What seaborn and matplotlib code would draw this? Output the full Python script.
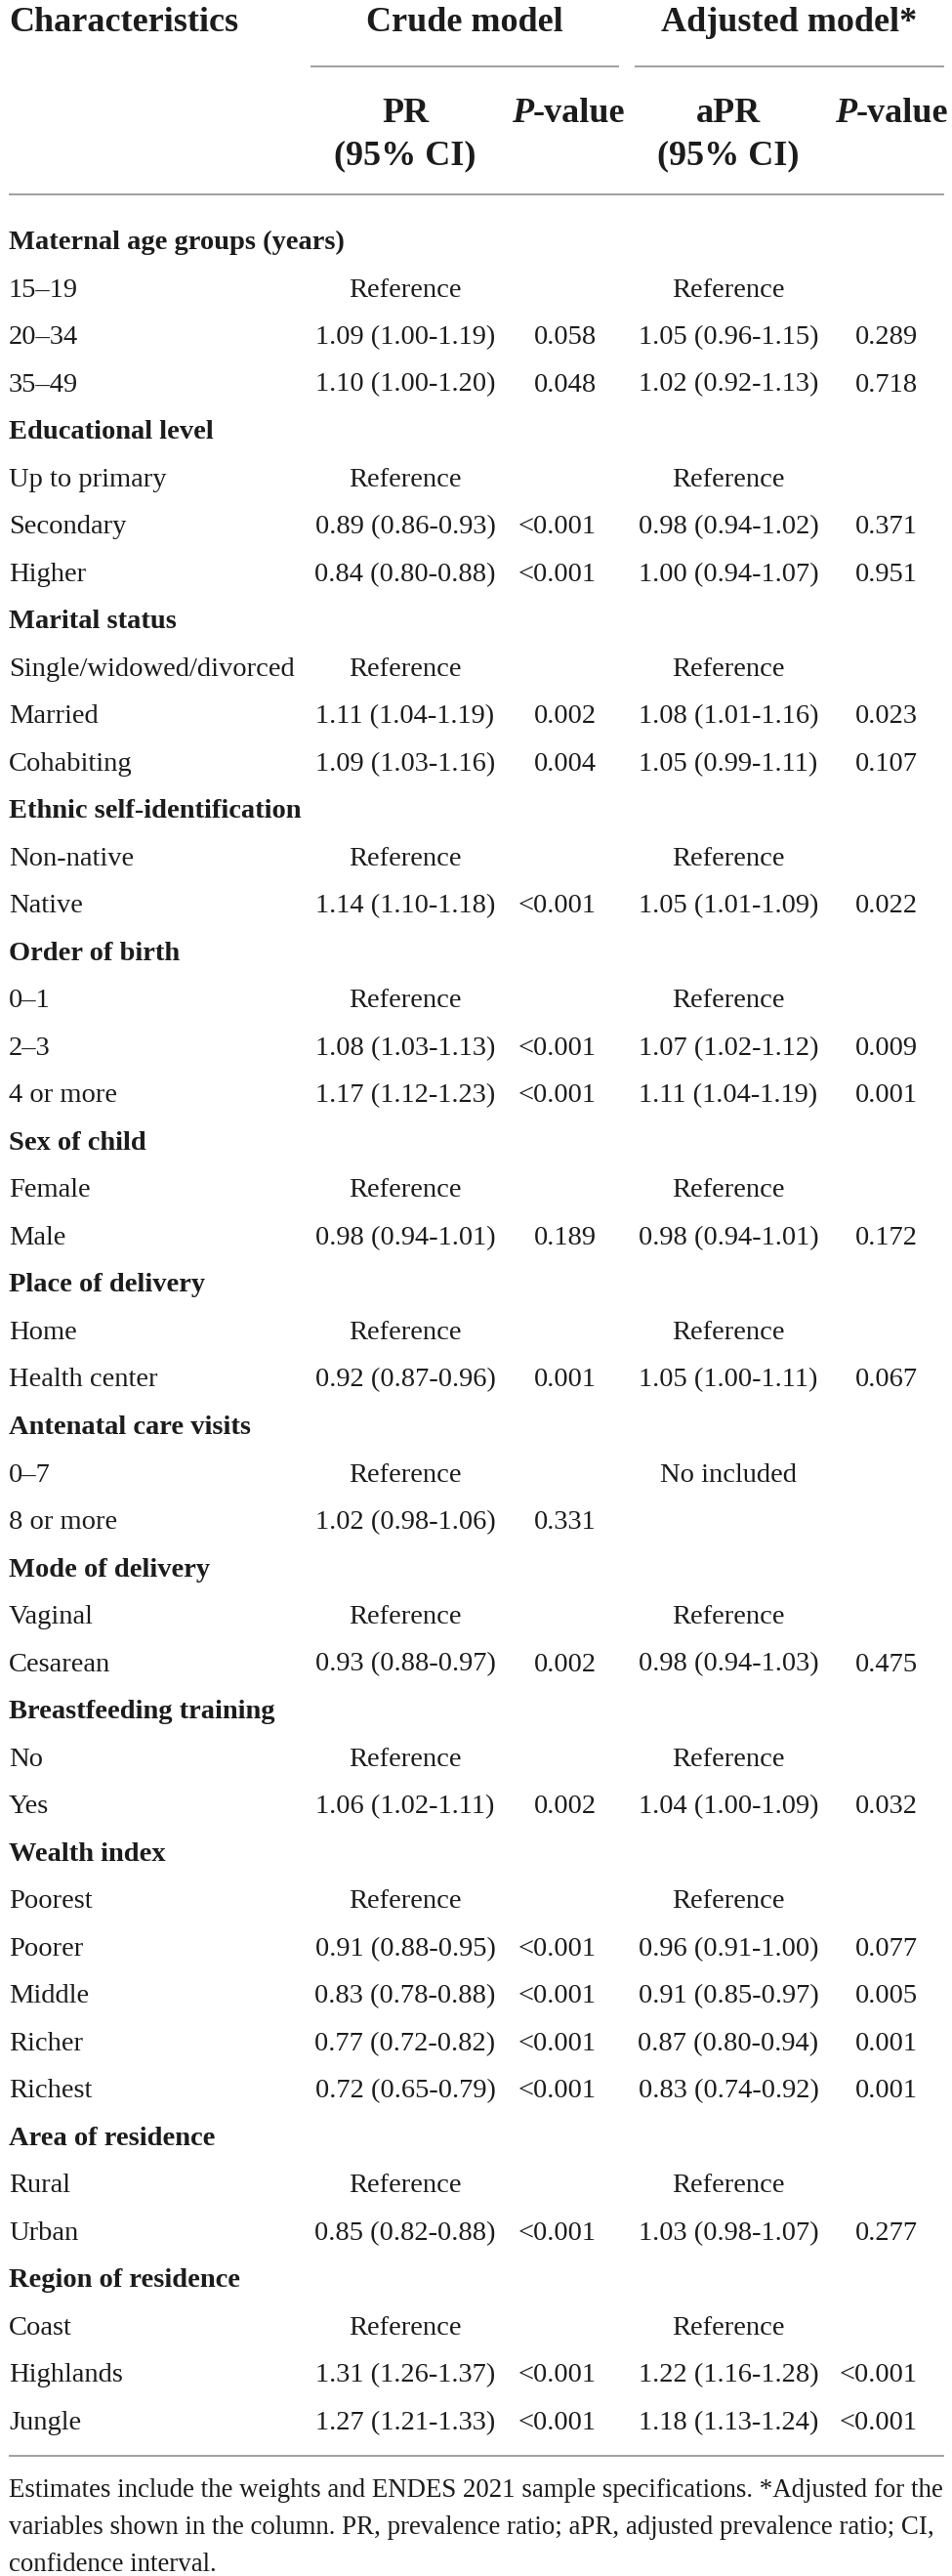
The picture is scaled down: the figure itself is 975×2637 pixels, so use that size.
import pandas as pd
import matplotlib
matplotlib.use("Agg")
import matplotlib.pyplot as plt
import seaborn as sns

# ---------------- data ----------------
sections = [
    "Maternal age groups (years)",
    "Educational level",
    "Marital status",
    "Ethnic self-identification",
    "Order of birth",
    "Sex of child",
    "Place of delivery",
    "Antenatal care visits",
    "Mode of delivery",
    "Breastfeeding training",
    "Wealth index",
    "Area of residence",
    "Region of residence",
]

items = [
    ["15–19", "20–34", "35–49"],
    ["Up to primary", "Secondary", "Higher"],
    ["Single/widowed/divorced", "Married", "Cohabiting"],
    ["Non-native", "Native"],
    ["0–1", "2–3", "4 or more"],
    ["Female", "Male"],
    ["Home", "Health center"],
    ["0–7", "8 or more"],
    ["Vaginal", "Cesarean"],
    ["No", "Yes"],
    ["Poorest", "Poorer", "Middle", "Richer", "Richest"],
    ["Rural", "Urban"],
    ["Coast", "Highlands", "Jungle"],
]

pr_crude = [
    "Reference", "1.09 (1.00-1.19)", "1.10 (1.00-1.20)",
    "Reference", "0.89 (0.86-0.93)", "0.84 (0.80-0.88)",
    "Reference", "1.11 (1.04-1.19)", "1.09 (1.03-1.16)",
    "Reference", "1.14 (1.10-1.18)",
    "Reference", "1.08 (1.03-1.13)", "1.17 (1.12-1.23)",
    "Reference", "0.98 (0.94-1.01)",
    "Reference", "0.92 (0.87-0.96)",
    "Reference", "1.02 (0.98-1.06)",
    "Reference", "0.93 (0.88-0.97)",
    "Reference", "1.06 (1.02-1.11)",
    "Reference", "0.91 (0.88-0.95)", "0.83 (0.78-0.88)", "0.77 (0.72-0.82)", "0.72 (0.65-0.79)",
    "Reference", "0.85 (0.82-0.88)",
    "Reference", "1.31 (1.26-1.37)", "1.27 (1.21-1.33)",
]

p_crude = [
    "", "0.058", "0.048",
    "", "<0.001", "<0.001",
    "", "0.002", "0.004",
    "", "<0.001",
    "", "<0.001", "<0.001",
    "", "0.189",
    "", "0.001",
    "", "0.331",
    "", "0.002",
    "", "0.002",
    "", "<0.001", "<0.001", "<0.001", "<0.001",
    "", "<0.001",
    "", "<0.001", "<0.001",
]

pr_adj = [
    "Reference", "1.05 (0.96-1.15)", "1.02 (0.92-1.13)",
    "Reference", "0.98 (0.94-1.02)", "1.00 (0.94-1.07)",
    "Reference", "1.08 (1.01-1.16)", "1.05 (0.99-1.11)",
    "Reference", "1.05 (1.01-1.09)",
    "Reference", "1.07 (1.02-1.12)", "1.11 (1.04-1.19)",
    "Reference", "0.98 (0.94-1.01)",
    "Reference", "1.05 (1.00-1.11)",
    "No included", "",
    "Reference", "0.98 (0.94-1.03)",
    "Reference", "1.04 (1.00-1.09)",
    "Reference", "0.96 (0.91-1.00)", "0.91 (0.85-0.97)", "0.87 (0.80-0.94)", "0.83 (0.74-0.92)",
    "Reference", "1.03 (0.98-1.07)",
    "Reference", "1.22 (1.16-1.28)", "1.18 (1.13-1.24)",
]

p_adj = [
    "", "0.289", "0.718",
    "", "0.371", "0.951",
    "", "0.023", "0.107",
    "", "0.022",
    "", "0.009", "0.001",
    "", "0.172",
    "", "0.067",
    "", "",
    "", "0.475",
    "", "0.032",
    "", "0.077", "0.005", "0.001", "0.001",
    "", "0.277",
    "", "<0.001", "<0.001",
]

footnote = [
    "Estimates include the weights and ENDES 2021 sample specifications. *Adjusted for the",
    "variables shown in the column. PR, prevalence ratio; aPR, adjusted prevalence ratio; CI,",
    "confidence interval.",
]

# build one row table (section rows + item rows)
rows = []
k = 0
for sec, its in zip(sections, items):
    rows.append({"label": sec, "bold": True, "pr": "", "p": "", "apr": "", "ap": ""})
    for it in its:
        rows.append({"label": it, "bold": False, "pr": pr_crude[k], "p": p_crude[k],
                     "apr": pr_adj[k], "ap": p_adj[k]})
        k += 1
df = pd.DataFrame(rows)

# ---------------- style ----------------
sns.set_theme(style="white")
plt.rcParams["font.family"] = ["Liberation Serif", "DejaVu Serif"]

W, H = 975, 2637
fig = plt.figure(figsize=(W / 100, H / 100), dpi=100)
ax = fig.add_axes([0, 0, 1, 1])
ax.set_xlim(0, W)
ax.set_ylim(H, 0)
ax.axis("off")

ink = "#1c1c1c"
rule = "#a3a3a3"
hdr_fs = 26
body_fs = 20.5

# columns
x_lab = 9
x_pr = 415
x_p = 611
x_apr = 746
x_ap = 940

# header
ax.text(x_lab, 32, "Characteristics", fontsize=hdr_fs, fontweight="bold", color=ink, va="baseline")
ax.text(476, 32, "Crude model", fontsize=hdr_fs, fontweight="bold", color=ink, ha="center", va="baseline")
ax.text(808, 32, "Adjusted model*", fontsize=hdr_fs, fontweight="bold", color=ink, ha="center", va="baseline")
ax.hlines(68, 318, 634, color=rule, lw=1.5)
ax.hlines(68, 650, 967, color=rule, lw=1.5)

ax.text(x_pr, 125, "PR", fontsize=hdr_fs, fontweight="bold", color=ink, ha="center", va="baseline")
ax.text(x_pr, 168, "(95% CI)", fontsize=hdr_fs, fontweight="bold", color=ink, ha="center", va="baseline")
ax.text(x_apr, 125, "aPR", fontsize=hdr_fs, fontweight="bold", color=ink, ha="center", va="baseline")
ax.text(x_apr, 168, "(95% CI)", fontsize=hdr_fs, fontweight="bold", color=ink, ha="center", va="baseline")
for xs in (546, 877):
    ax.text(xs, 125, "P", fontsize=hdr_fs, fontweight="bold", fontstyle="italic", color=ink,
            ha="right", va="baseline")
    ax.text(xs, 125, "-value", fontsize=hdr_fs, fontweight="bold", color=ink, ha="left", va="baseline")
ax.hlines(199, 9, 967, color=rule, lw=1.5)

# body rows
y0, dy = 255, 48.52
for i, r in df.iterrows():
    y = y0 + dy * i
    ax.text(x_lab, y, r["label"], fontsize=body_fs, color=ink, va="baseline",
            fontweight="bold" if r["bold"] else "normal")
    ax.text(x_pr, y, r["pr"], fontsize=body_fs, color=ink, ha="center", va="baseline")
    ax.text(x_p, y, r["p"], fontsize=body_fs, color=ink, ha="right", va="baseline")
    ax.text(x_apr, y, r["apr"], fontsize=body_fs, color=ink, ha="center", va="baseline")
    ax.text(x_ap, y, r["ap"], fontsize=body_fs, color=ink, ha="right", va="baseline")

ax.hlines(2514, 9, 967, color=rule, lw=1.5)

# footnote
for j, line in enumerate(footnote):
    ax.text(x_lab, 2556 + 38 * j, line, fontsize=19.4, color=ink, va="baseline")

fig.savefig("out.png", dpi=100, facecolor="white")
